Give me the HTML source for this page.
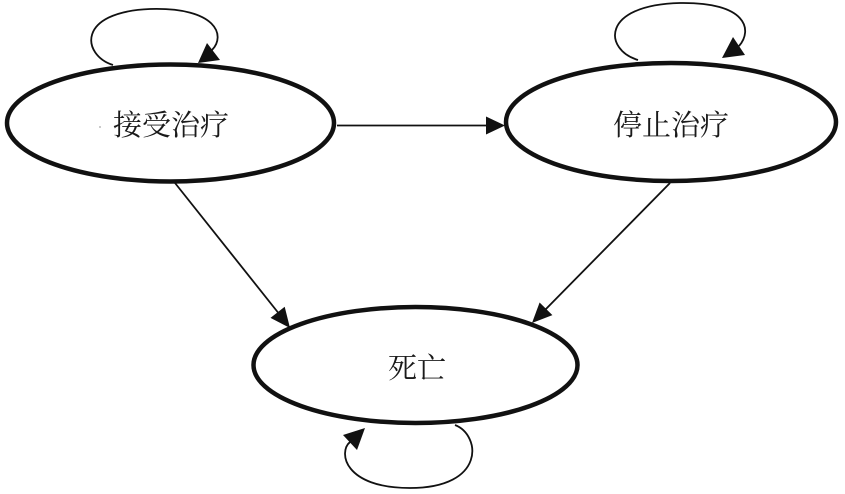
<!DOCTYPE html>
<html>
<head>
<meta charset="utf-8">
<style>
  html, body { margin: 0; padding: 0; background: #fff; }
  body { width: 845px; height: 494px; overflow: hidden; }
  svg { display: block; }
  text { font-family: "Liberation Serif", "Noto Serif CJK SC", "Noto Sans CJK SC", serif; font-size: 29px; fill: #1a1a1a; }
</style>
</head>
<body>
<svg width="845" height="494" viewBox="0 0 845 494" xmlns="http://www.w3.org/2000/svg">
  <rect width="845" height="494" fill="#fff"/>

  <!-- loops (thin) -->
  <g fill="none" stroke="#111" stroke-width="1.8">
    <path d="M113,65 C 82,55 76,12 150,9 C 217,7 226,36 212,50"/>
    <path d="M638,60 C 604,50 600,5 680,3 C 747,2 753,30 739,46"/>
    <path d="M455,425 C 481,435 486,488 410,488 C 344,488 338,452 350,442"/>
    <!-- connectors -->
    <line x1="337" y1="125.5" x2="490" y2="125.5"/>
    <line x1="175" y1="183" x2="280" y2="315"/>
    <line x1="670" y1="183" x2="544" y2="311"/>
  </g>

  <!-- arrowheads -->
  <g fill="#111">
    <polygon points="198,63 207,43 220,60"/>
    <polygon points="722,58 733,37 745,55"/>
    <polygon points="365,428 343,435 357,450"/>
    <polygon points="505,125.5 486,116.5 486,134.5"/>
    <polygon points="290,328 270.5,317.9 284.7,306.7"/>
    <polygon points="532,323 552.4,315.1 539.6,302.5"/>
  </g>

  <!-- states -->
  <g fill="none" stroke="#111" stroke-width="4.5">
    <ellipse cx="170.5" cy="123" rx="163.5" ry="58.5"/>
    <ellipse cx="671" cy="122" rx="165" ry="59"/>
    <ellipse cx="415.5" cy="365" rx="162" ry="58"/>
  </g>

  <circle cx="100" cy="127" r="1" fill="#bbb"/>

  <text x="171" y="135" text-anchor="middle">接受治疗</text>
  <text x="671" y="135" text-anchor="middle">停止治疗</text>
  <text x="417" y="378" text-anchor="middle">死亡</text>
</svg>
</body>
</html>
